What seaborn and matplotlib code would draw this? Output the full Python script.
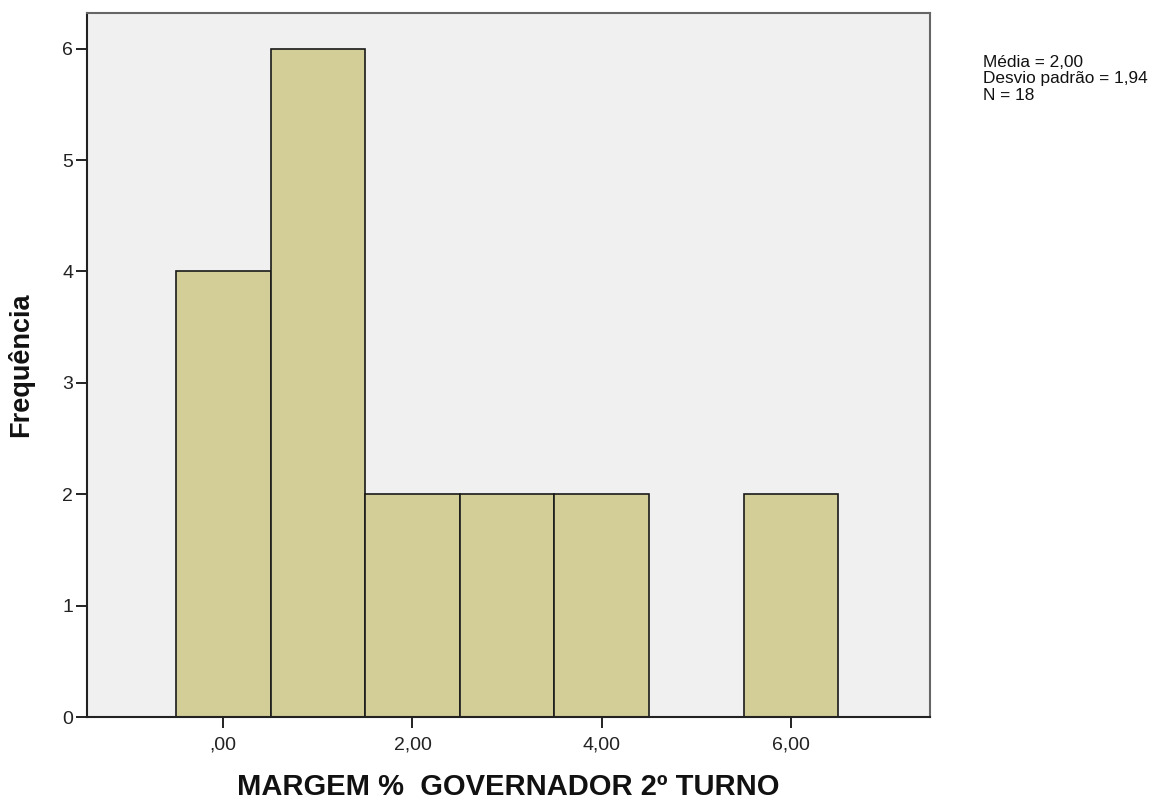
import matplotlib
matplotlib.use("Agg")
import matplotlib.pyplot as plt
import seaborn as sns
import pandas as pd

# Data: histogram bin centers and counts
bin_centers = [0, 1, 2, 3, 4, 5, 6]
counts = [4, 6, 2, 2, 2, 0, 2]
x_ticks = [0, 2, 4, 6]
x_tick_labels = [",00", "2,00", "4,00", "6,00"]
y_ticks = [0, 1, 2, 3, 4, 5, 6]
stats_text = "Média = 2,00\nDesvio padrão = 1,94\nN = 18"

df = pd.DataFrame({"x": bin_centers, "w": counts})

sns.set_style("white")
plt.rcParams['font.family'] = ['Liberation Sans', 'DejaVu Sans']

fig = plt.figure(figsize=(11.52, 8), dpi=100)
ax = fig.add_axes([87/1152, 1 - 717/800, (930 - 87)/1152, (717 - 13)/800])
ax.set_facecolor("#f0f0f0")

sns.histplot(data=df, x="x", weights="w", binwidth=1, binrange=(-0.5, 6.5),
             color="#d3ce97", alpha=1, edgecolor="#1a1a1a", linewidth=1.2, ax=ax)

ax.set_xlim(-1.44, 7.47)
ax.set_ylim(0, 6.32)
ax.set_xticks(x_ticks)
ax.set_xticklabels(x_tick_labels)
ax.set_yticks(y_ticks)
ax.tick_params(axis="both", which="both", direction="out", length=8, width=1.4,
               labelsize=14, colors="#222222", left=True, bottom=True)
ax.tick_params(axis="x", pad=6)
ax.tick_params(axis="y", pad=2)

for side in ["left", "bottom"]:
    ax.spines[side].set_color("#222222")
    ax.spines[side].set_linewidth(1.5)
for side in ["top", "right"]:
    ax.spines[side].set_visible(True)
    ax.spines[side].set_color("#666666")
    ax.spines[side].set_linewidth(1.5)

ax.set_xlabel("MARGEM %  GOVERNADOR 2º TURNO", fontsize=21, fontweight="bold",
              labelpad=14, color="#111111")
ax.set_ylabel("Frequência", fontsize=19.5, fontweight="bold", labelpad=20,
              color="#111111")

fig.text(983/1152, 1 - 55/800, stats_text, fontsize=12.4, va="top", ha="left",
         linespacing=1.12, color="#111111")

fig.savefig("out.png", dpi=100)
